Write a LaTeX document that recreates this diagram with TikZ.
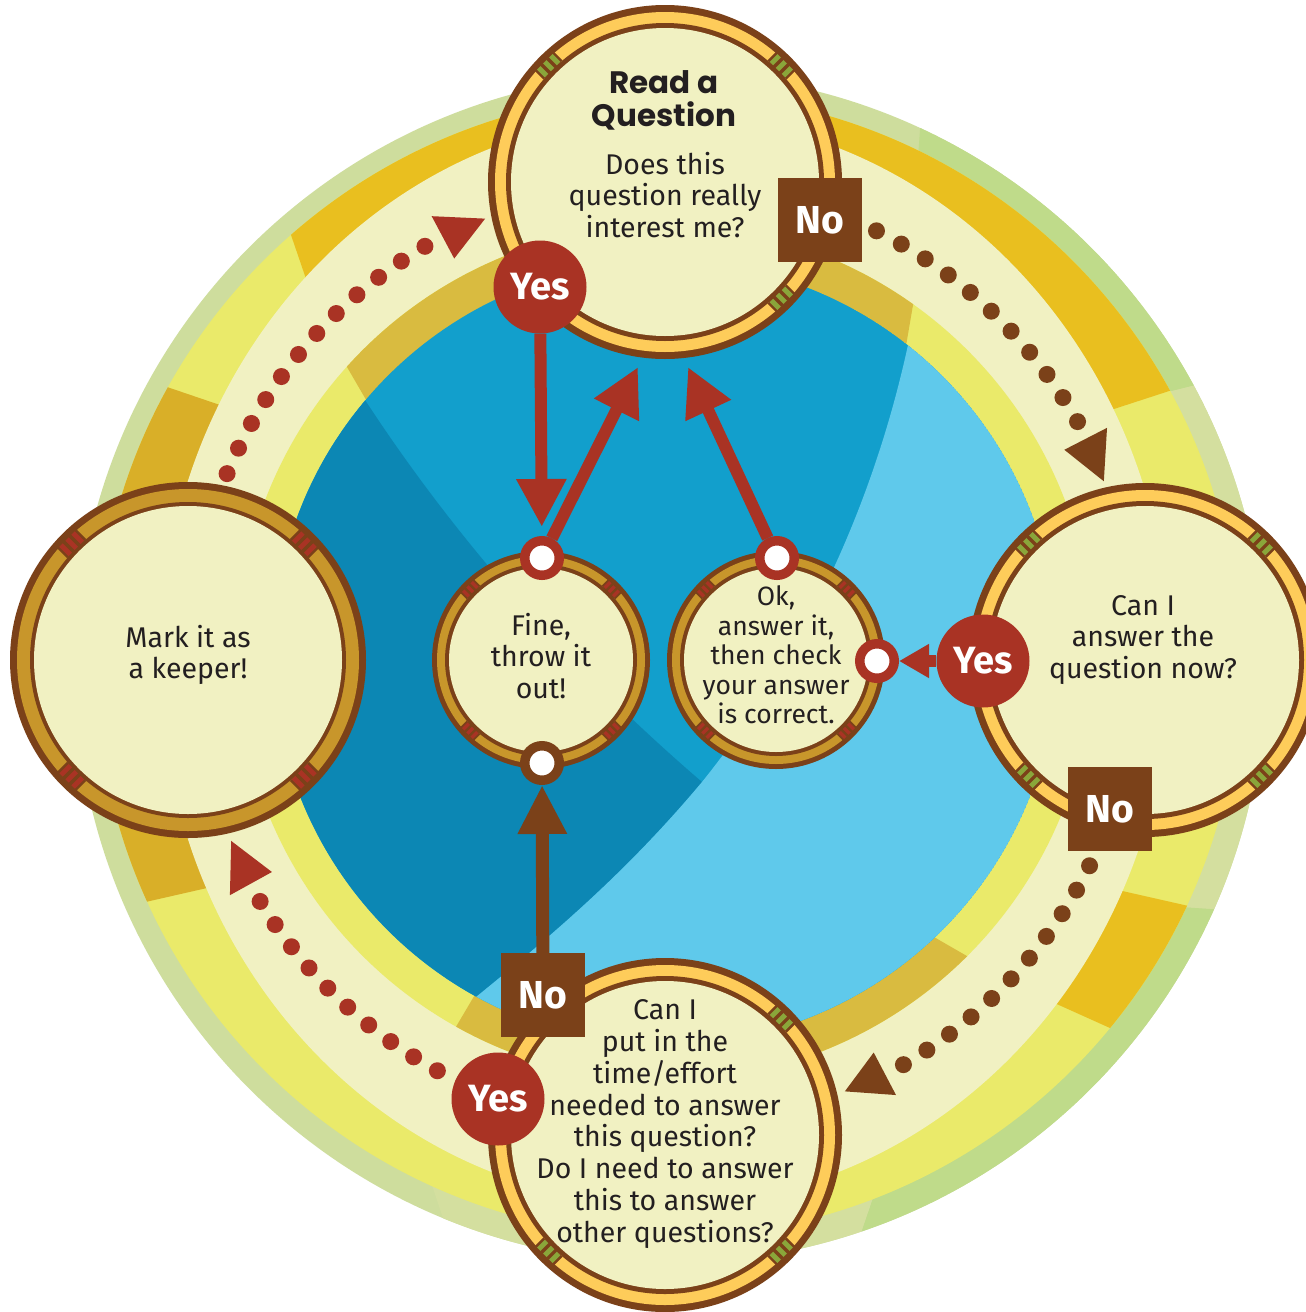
\documentclass[tikz,border=0pt]{standalone}
\usepackage{fontspec}
\setmainfont{Fira Sans}
\newfontfamily\titlefont{Poppins}
\usetikzlibrary{arrows.meta,calc}
\definecolor{cbrown}{HTML}{7B4119}
\definecolor{cred}{HTML}{A93324}
\definecolor{ccream}{HTML}{F1F1C2}
\definecolor{cband}{HTML}{FECC5A}
\definecolor{cbandg}{HTML}{C8962B}
\definecolor{cstripeg}{HTML}{8AA63A}
\definecolor{ctext}{HTML}{231F20}
\definecolor{grA}{HTML}{CEDD9D}
\definecolor{grB}{HTML}{BFDB8A}
\definecolor{grC}{HTML}{D4DF9F}
\definecolor{ryel}{HTML}{EAEA6A}
\definecolor{rgold}{HTML}{E9BF1F}
\definecolor{rdgold}{HTML}{D9AF28}
\definecolor{rigold}{HTML}{D9BB40}
\definecolor{bdark}{HTML}{0C87B4}
\definecolor{bmid}{HTML}{129FCC}
\definecolor{blight}{HTML}{5FC9EB}
% medallion: #1 centre, #2 outer r, #3 band outer, #4 band inner, #5 cream r, #6 band colour, #7 stripe colour, #8 stripe spacing
\newcommand\medal[8]{%
  \fill[cbrown] (#1) circle[radius=#2pt];
  \fill[#6] (#1) circle[radius=#3pt];
  \fill[cbrown] (#1) circle[radius=#4pt];
  \fill[ccream] (#1) circle[radius=#5pt];
  \foreach \ang in {45,135,225,315}{%
    \begin{scope}[shift={(#1)},rotate=\ang]
      \fill[cbrown] ({(#4-0.5)*1pt},{-1.6*#8*1pt}) rectangle ({(#3+0.5)*1pt},{1.6*#8*1pt});
      \foreach \s in {-1,0,1}{%
        \fill[#7] ({#4*1pt},{(\s-0.29)*#8*1pt}) rectangle ({#3*1pt},{(\s+0.29)*#8*1pt});}
    \end{scope}}%
}
\begin{document}
\begin{tikzpicture}[x=1pt,y=-1pt,
  body/.style={text=ctext, align=center, font=\fontsize{28.5}{31.8}\selectfont, inner sep=0pt},
  bodysmall/.style={body, font=\fontsize{26.5}{29.5}\selectfont},
  titletext/.style={text=ctext, align=center, font=\titlefont\bfseries\fontsize{31}{33}\selectfont, inner sep=0pt},
  yesbadge/.style={circle, fill=cred, minimum size=93pt, inner sep=0pt, text=white, font=\bfseries\fontsize{38}{38}\selectfont},
  nobadge/.style={rectangle, fill=cbrown, minimum size=84pt, inner sep=0pt, text=white, font=\bfseries\fontsize{39}{39}\selectfont},
  conred/.style={circle, fill=white, draw=cred, line width=9.5pt, minimum size=34.5pt, inner sep=0pt},
  conbrown/.style={conred, draw=cbrown},
  shaft/.style={line width=12pt, -{Triangle[length=48pt,width=47pt]}},
  ]
\useasboundingbox (0,0) rectangle (1306,1312);
\clip (0,0) rectangle (1306,1312);
\fill[white] (0,0) rectangle (1306,1312);

% ---- outer green ring
\fill[grA] (670,668) circle[radius=595pt];
\begin{scope}
  \clip (670,668) circle[radius=595pt];
  \fill[grB] (915,200) -- (925,60) -- (1000,-100) -- (1400,300) -- (1240,374) -- (1120,404) -- (900,450) -- cycle;
  \fill[grC] (1120,404) -- (1240,374) -- (1400,300) -- (1400,950) -- (1270,913) -- (1150,905) -- (1000,650) -- cycle;
  \fill[grB] (1150,905) -- (1270,913) -- (1400,950) -- (1300,1400) -- (850,1265) -- (895,1133) -- (900,900) -- cycle;
  \fill[grC] (895,1133) -- (850,1265) -- (850,1400) -- (470,1400) -- (457,1260) -- (427,1170) -- (650,1000) -- cycle;
\end{scope}
% ---- outer coloured band
\fill[ryel] (668,665) circle[radius=572pt];
\begin{scope}
  \clip (668,665) circle[radius=572pt];
  \fill[rgold] (329,346) -- (277,194) -- (300,-100) -- (1300,-100) -- (1209,378) -- (1071,423) -- (665,600) -- cycle;
  \fill[rdgold] (270,422) -- (120,371) -- (-100,400) -- (-100,950) -- (49,924) -- (286,870) -- (400,650) -- cycle;
  \fill[rgold] (1030,992) -- (1150,1046) -- (1400,1000) -- (1246,919) -- (1087,883) -- (900,800) -- cycle;
\end{scope}
% ---- cream path band
\fill[ccream] (665,660) ellipse[x radius=505pt, y radius=545pt];
% ---- inner band
\fill[ryel] (665,653) circle[radius=428pt];
\begin{scope}
  \clip (665,653) circle[radius=428pt];
  \fill[rigold] (383,429) -- (329,336) -- (300,150) -- (950,150) -- (919,270) -- (901,375) -- (665,500) -- cycle;
  \fill[rigold] (901,918) -- (979,963) -- (1000,1150) -- (400,1150) -- (447,1042) -- (486,976) -- (665,800) -- cycle;
\end{scope}
% ---- blue centre
\begin{scope}
  \clip (665,653) circle[radius=392pt];
  \fill[bmid] (665,653) circle[radius=392pt];
  \fill[bdark] (300,300) -- (365,400) .. controls (450,530) and (560,660) .. (702,782) .. controls (620,880) and (540,945) .. (460,1010) -- (420,1080) -- (200,1080) -- (200,300) -- cycle;
  \fill[blight] (930,200) -- (915,310) .. controls (880,500) and (800,660) .. (702,782) .. controls (620,880) and (540,945) .. (460,1010) -- (420,1080) -- (1100,1100) -- (1100,200) -- cycle;
\end{scope}

% ---- dotted arrows round the ring
\coordinate (ctr) at (665,655);
\foreach \i in {0,...,11} \fill[cred] ($(ctr)+({157.5-3.37*\i}:474pt)$) circle[radius=8.5pt];
\fill[cred] ($(ctr)+(118:449pt)$) -- ($(ctr)+(118:497pt)$) -- ($(ctr)+(112.4:472pt)$) -- cycle;
\foreach \i in {0,...,10} \fill[cbrown] ($(ctr)+({63.5-3.4*\i}:474pt)$) circle[radius=8.5pt];
\fill[cbrown] ($(ctr)+(27.2:449pt)$) -- ($(ctr)+(27.2:497pt)$) -- ($(ctr)+(21.6:472pt)$) -- cycle;
\foreach \i in {0,...,10} \fill[cbrown] ($(ctr)+({-26.4-3.34*\i}:474pt)$) circle[radius=8.5pt];
\fill[cbrown] ($(ctr)+(-62.3:449pt)$) -- ($(ctr)+(-62.3:497pt)$) -- ($(ctr)+(-67.6:472pt)$) -- cycle;
\foreach \i in {0,...,9} \fill[cred] ($(ctr)+({241.3-3.33*\i}:474pt)$) circle[radius=8.5pt];
\fill[cred] ($(ctr)+(208.9:449pt)$) -- ($(ctr)+(208.9:497pt)$) -- ($(ctr)+(203.2:472pt)$) -- cycle;

% ---- medallions
\medal{665,182}{177}{170}{159}{154}{cband}{cstripeg}{8.5}
\medal{1145,660}{177}{170}{159}{154}{cband}{cstripeg}{8.5}
\medal{188,660}{178}{171}{158}{154}{cbandg}{cred}{8.5}
\medal{665,1135}{177}{170}{159}{154}{cband}{cstripeg}{8.5}
\medal{541,660}{109}{104}{96}{92}{cbandg}{cred}{6}
\medal{776,660}{109}{104}{96}{92}{cbandg}{cred}{6}

% ---- texts
\node[titletext] (tRead) at (664,100) {Read a\\Question};
\node[body] (bRead) at (665,195) {Does this\\question really\\interest me?};
\node[body] (bNow) at (1143,640) {Can I\\answer the\\question now?};
\node[body] (bKeep) at (188,655) {Mark it as\\a keeper!};
\node[body] (bTime) at (665,1124) {Can I\\put in the\\time/effort\\needed to answer\\this question?\\Do I need to answer\\this to answer\\other questions?};
\node[body] (bFine) at (541,656) {Fine,\\throw it\\out!};
\node[bodysmall] (bOk) at (776,655) {Ok,\\answer it,\\then check\\your answer\\is correct.};

% ---- badges and connectors
\node[yesbadge] (yesA) at (540,287) {Yes};
\node[nobadge] (noA) at (820,220) {No};
\node[yesbadge] (yesB) at (983,661) {Yes};
\node[nobadge] (noB) at (1110,809) {No};
\node[nobadge] (noC) at (543,995) {No};
\node[yesbadge] (yesC) at (498,1099) {Yes};
\node[conred] (fineTop) at (542,558) {};
\node[conbrown] (fineBot) at (542,763) {};
\node[conred] (okTop) at (777,558) {};
\node[conred] (okRight) at (877,661) {};
\coordinate (tipB) at (638,367);
\coordinate (tipC) at (688,367);

% ---- arrows in the centre
\draw[shaft, draw=cred, shorten >=9pt] (yesA) -- (fineTop);
\draw[shaft, draw=cred] (fineTop) -- (tipB);
\draw[shaft, draw=cred] (okTop) -- (tipC);
\draw[draw=cred, line width=12pt, -{Triangle[length=30pt,width=32pt]}] (yesB) -- (okRight);
\draw[draw=cbrown, line width=13pt, -{Triangle[length=49pt,width=46pt]}] (noC) -- (fineBot);
\end{tikzpicture}
\end{document}
